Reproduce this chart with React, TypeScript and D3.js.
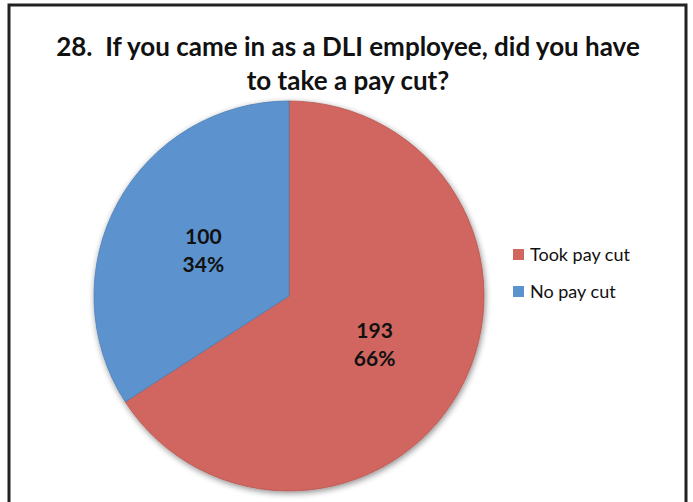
import React, { useEffect, useRef } from 'react';
import * as d3 from 'd3';

const categories = ['Took pay cut', 'No pay cut'];
const counts = [193, 100];
const percents = ['66%', '34%'];
const colors = ['#D0665E', '#5B93CE'];
const titleLines = ['28.  If you came in as a DLI employee, did you have', 'to take a pay cut?'];

const App: React.FC = () => {
  const svgRef = useRef<SVGSVGElement>(null);

  useEffect(() => {
    if (!svgRef.current) return;
    const svg = d3.select(svgRef.current);
    svg.selectAll('*').remove();

    const width = 693;
    const height = 502;
    const cx = 289;
    const cy = 296;
    const radius = 195;
    const font = 'Lato, "Open Sans", sans-serif';

    // frame
    svg.append('rect').attr('width', width).attr('height', height).attr('fill', '#fff');
    svg.append('path')
      .attr('d', `M9,${height} V5 H686 V${height}`)
      .attr('fill', 'none')
      .attr('stroke', '#222')
      .attr('stroke-width', 3);

    const defs = svg.append('defs');
    const shadow = defs.append('filter').attr('id', 'shadow').attr('x', '-10%').attr('y', '-10%').attr('width', '120%').attr('height', '120%');
    shadow.append('feGaussianBlur').attr('in', 'SourceAlpha').attr('stdDeviation', 3);
    shadow.append('feOffset').attr('dx', 1).attr('dy', 2).attr('result', 'blur');
    shadow.append('feComponentTransfer').append('feFuncA').attr('type', 'linear').attr('slope', 0.45);
    const merge = shadow.append('feMerge');
    merge.append('feMergeNode');
    merge.append('feMergeNode').attr('in', 'SourceGraphic');

    // title
    svg.append('g')
      .selectAll('text')
      .data(titleLines)
      .enter()
      .append('text')
      .attr('x', 348)
      .attr('y', (_, i) => 56 + i * 34)
      .attr('text-anchor', 'middle')
      .attr('font-family', font)
      .attr('font-weight', 'bold')
      .attr('font-size', 26)
      .attr('fill', '#111')
      .style('white-space', 'pre')
      .text(d => d);

    const pie = d3.pie<number>().sort(null).value(d => d);
    const arcs = pie(counts);
    const arc = d3.arc<d3.PieArcDatum<number>>().innerRadius(0).outerRadius(radius);

    const g = svg.append('g').attr('transform', `translate(${cx},${cy})`);
    g.append('g')
      .attr('filter', 'url(#shadow)')
      .selectAll('path')
      .data(arcs)
      .enter()
      .append('path')
      .attr('d', arc)
      .attr('fill', (_, i) => colors[i])
      .attr('stroke', (_, i) => d3.color(colors[i])!.darker(0.4).toString())
      .attr('stroke-width', 0.8);

    const labelArc = d3.arc<d3.PieArcDatum<number>>().innerRadius(radius * 0.5).outerRadius(radius * 0.5);
    const labels = g.selectAll('g.lbl')
      .data(arcs)
      .enter()
      .append('g')
      .attr('class', 'lbl')
      .attr('transform', d => {
        const [x, y] = labelArc.centroid(d);
        return `translate(${x},${y})`;
      });
    labels.append('text')
      .attr('text-anchor', 'middle')
      .attr('y', -5)
      .attr('font-family', font)
      .attr('font-weight', 'bold')
      .attr('font-size', 21)
      .attr('fill', '#111')
      .text((_, i) => counts[i]);
    labels.append('text')
      .attr('text-anchor', 'middle')
      .attr('y', 23)
      .attr('font-family', font)
      .attr('font-weight', 'bold')
      .attr('font-size', 21)
      .attr('fill', '#111')
      .text((_, i) => percents[i]);

    // legend
    const legend = svg.append('g').attr('transform', 'translate(513,255)');
    const items = legend.selectAll('g')
      .data(categories)
      .enter()
      .append('g')
      .attr('transform', (_, i) => `translate(0,${i * 37})`);
    items.append('rect')
      .attr('x', 0)
      .attr('y', -6)
      .attr('width', 11)
      .attr('height', 11)
      .attr('fill', (_, i) => colors[i]);
    items.append('text')
      .attr('x', 17)
      .attr('y', 6)
      .attr('font-family', font)
      .attr('font-size', 18)
      .attr('fill', '#111')
      .text(d => d);
  }, []);

  return <svg ref={svgRef} width={693} height={502} style={{ position: 'absolute', left: 0, top: 0 }} />;
};

export default App;
